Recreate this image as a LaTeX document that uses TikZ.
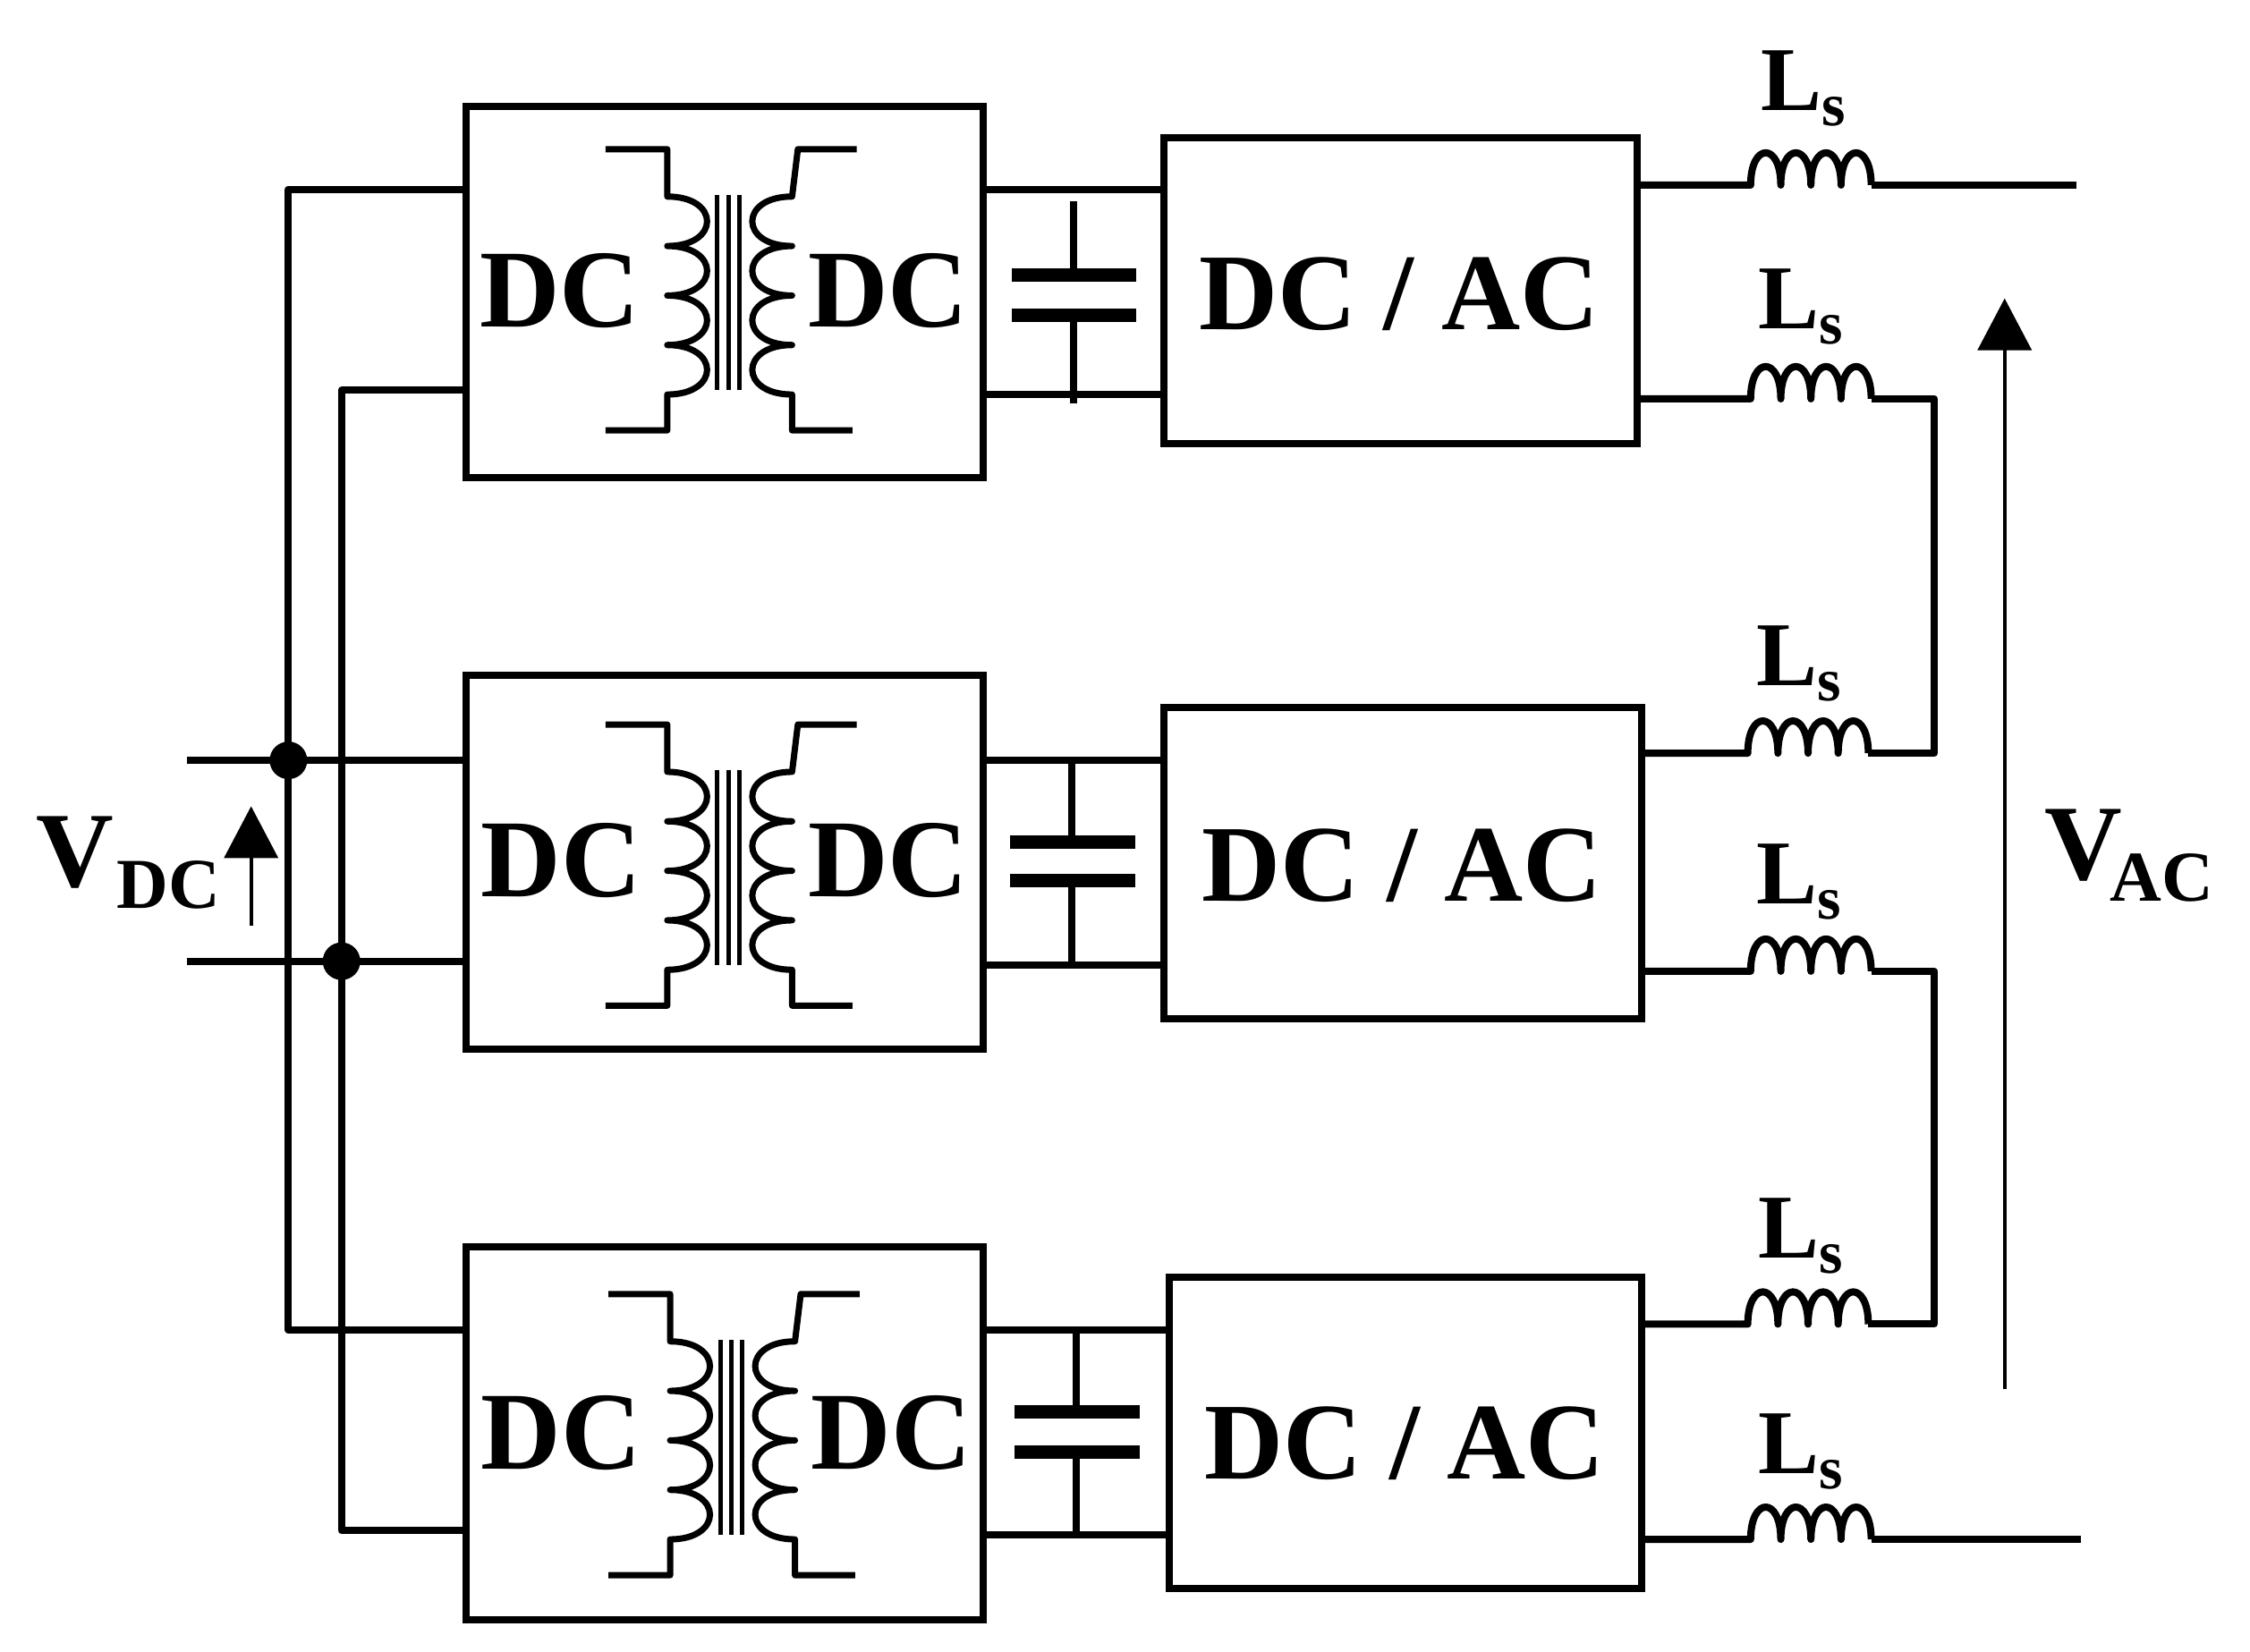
\documentclass[tikz,border=0pt]{standalone}
\usepackage{fontspec}
\setmainfont{Liberation Serif}
\usetikzlibrary{arrows.meta}
\newcommand{\fsz}[1]{\fontsize{#1}{#1}\selectfont\bfseries}
\newcommand{\blk}[5]{\node[blockbox,minimum width={1.604*(#4-#2)*1pt},minimum height={1.604*(#5-#3)*1pt}] (#1) at ({(#2+#4)/2},{(#3+#5)/2}) {};}
\newcommand{\windR}{.. controls +(37,0) and +(37,0) .. ++(0,34.5)}
\newcommand{\windL}{.. controls +(-37,0) and +(-37,0) .. ++(0,34.5)}
\newcommand{\hump}{.. controls +(0,-30) and +(0,-30) .. ++(21,0)}
\newcommand{\Lcoil}[6]{% name, box, y, coil start x, label x, label baseline
  \coordinate (#1a) at (#4,#3);
  \coordinate (#1b) at (#4+84,#3);
  \draw[wire] (#2.east |- #1a) -- (#1a) \hump \hump \hump \hump;
  \node[lslabel] (#1t) at (#5,#6) {L\raisebox{-17pt}{\fsz{68}s}};
}
\tikzset{
  x=1.604pt,y=-1.604pt,
  wire/.style={line width=8pt,line join=round,line cap=butt},
  thinwire/.style={line width=7pt},
  blockbox/.style={draw,line width=8pt,inner sep=0pt,outer sep=0pt},
  plate/.style={line width=15pt},
  bigtext/.style={inner sep=0pt,anchor=base,font=\fsz{124}},
  widetext/.style={inner sep=0pt,anchor=base,font=\fsz{122}},
  lslabel/.style={inner sep=0pt,anchor=base west,font=\fsz{102}},
  voltage/.style={line width=4pt,-{Triangle[length=58pt,width=60pt]}},
  junction/.style={circle,fill=black,inner sep=0pt,minimum size=42pt}
}
\begin{document}
\begin{tikzpicture}
\useasboundingbox (0,0) rectangle (1568,1151.5);
% blocks
\blk{dd1}{325}{74}{685}{333}
\blk{dd2}{325}{471}{685}{731}
\blk{dd3}{325}{869}{685}{1129}
\blk{da1}{811}{96}{1141}{309}
\blk{da2}{811}{493}{1144}{710}
\blk{da3}{815}{890}{1144}{1107}
% block labels
\foreach \xa/\xb/\xc/\ya/\yb/\n in {390/619/975/228/230/1,391/619/977/625/628/2,391/621/979/1024/1031/3}{
  \node[bigtext] (dcl\n) at (\xa,\ya) {DC};
  \node[bigtext] (dcr\n) at (\xb,\ya) {DC};
  \node[widetext] (dcac\n) at (\xc,\yb) {DC / AC};
}
% transformers
\foreach \dx/\dy in {0/0,0/401,2/798}{
\begin{scope}[shift={(\dx,\dy)}]
  \draw[thinwire,line join=round] (422,104) -- (465,104) -- (465,137) \windR \windR \windR \windR -- (465,300) -- (422,300);
  \draw[thinwire,line join=round] (597,104) -- (556,104) -- (552,137) \windL \windL \windL \windL -- (552,300) -- (594,300);
  \foreach \cx in {500,507.5,515} \draw[line width=5pt] (\cx,136) -- (\cx,272);
\end{scope}
}
% DC bus
\coordinate (pb) at (201,132);
\coordinate (nb) at (238,272);
\coordinate (pe) at (201,927);
\coordinate (ne) at (238,1067);
\coordinate (pin) at (130,530);
\coordinate (nin) at (130,670);
\draw[wire] (dd1.west |- pb) -- (pb) -- (pe) -- (dd3.west |- pe);
\draw[wire] (dd1.west |- nb) -- (nb) -- (ne) -- (dd3.west |- ne);
\draw[wire] (pin) -- (dd2.west |- pin);
\draw[wire] (nin) -- (dd2.west |- nin);
\node[junction] (j1) at (pb |- pin) {};
\node[junction] (j2) at (nb |- nin) {};
% DC links and capacitors
\foreach \n/\m/\yu/\yd/\cx/\pa/\pb/\ct/\cb in {dd1/da1/132/275/748/192/220/140/281,dd2/da2/530/673/747/587/614/530/673,dd3/da3/927/1070/750/984/1012/927/1070}{
  \draw[wire] (\n.east |- 0,\yu) -- (\m.west |- 0,\yu);
  \draw[wire] (\n.east |- 0,\yd) -- (\m.west |- 0,\yd);
  \draw[wire] (\cx,\ct) -- (\cx,\pa);
  \draw[wire] (\cx,\pb) -- (\cx,\cb);
  \draw[plate] (\cx-43,\pa) -- (\cx+44,\pa);
  \draw[plate] (\cx-43,\pb) -- (\cx+44,\pb);
}
% output inductors
\Lcoil{a}{da1}{129}{1220}{1227}{77}
\Lcoil{b}{da1}{278}{1220}{1225}{229}
\Lcoil{c}{da2}{525}{1218}{1224}{478}
\Lcoil{d}{da2}{677}{1220}{1224}{630}
\Lcoil{e}{da3}{923}{1218}{1225}{877}
\Lcoil{f}{da3}{1073}{1220}{1225}{1027}
\coordinate (oa) at (1447,129);
\coordinate (of) at (1450,1073);
\coordinate (tr1) at (1348,278);
\coordinate (tr2) at (1348,677);
\draw[wire] (ab) -- (oa);
\draw[wire] (fb) -- (of);
\draw[wire] (bb) -- (tr1) -- (tr1 |- cb) -- (cb);
\draw[wire] (db) -- (tr2) -- (tr2 |- eb) -- (eb);
% voltages
\coordinate (vdca) at (175,645);
\coordinate (vdcb) at (175,562);
\coordinate (vaca) at (1397,968);
\coordinate (vacb) at (1397,208);
\draw[voltage] (vdca) -- (vdcb);
\draw[voltage] (vaca) -- (vacb);
\node[inner sep=0pt,anchor=base west,font=\fsz{120}] (vdc) at (25,618) {V\hspace{4pt}\raisebox{-24pt}{\fsz{80}DC}};
\node[inner sep=0pt,anchor=base west,font=\fsz{120}] (vac) at (1425,613) {V\raisebox{-24pt}{\fsz{80}\hspace{-14pt}AC}};
\end{tikzpicture}
\end{document}
